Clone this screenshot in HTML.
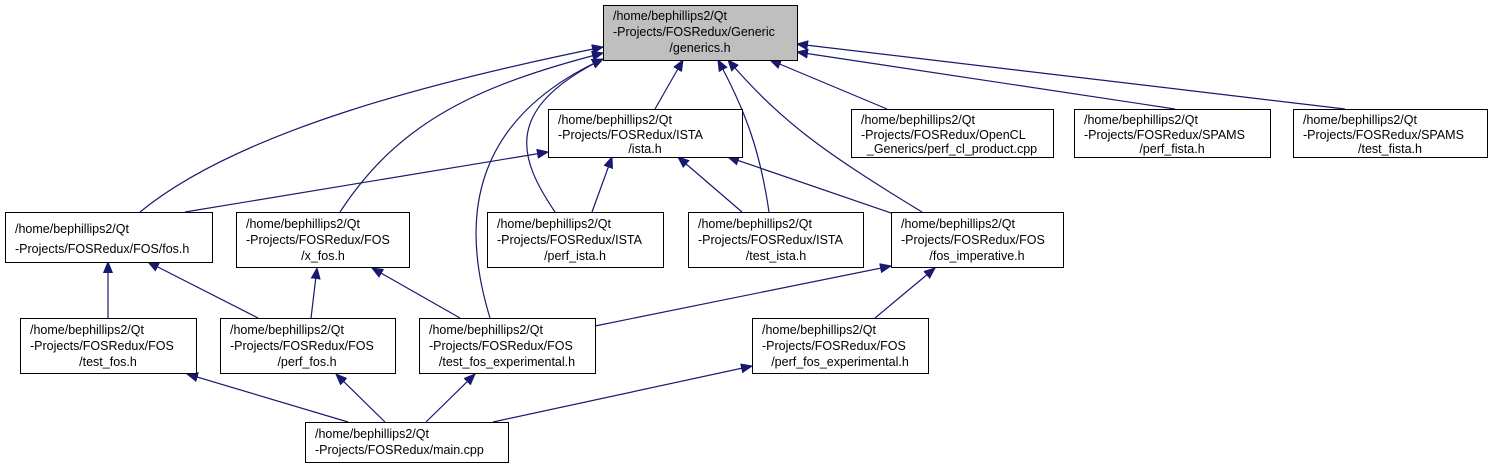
<!DOCTYPE html>
<html><head><meta charset="utf-8"><style>
html,body{margin:0;padding:0;background:#fff;}
svg{display:block;}
text{font-family:"Liberation Sans",sans-serif;font-size:12.5px;fill:#000;}
.b{fill:#fff;stroke:#000;stroke-width:1;}
.e{fill:none;stroke:#191970;stroke-width:1.2;}
</style></head><body>
<svg width="1494" height="468" viewBox="0 0 1494 468" xmlns="http://www.w3.org/2000/svg">
<defs><marker id="a" markerWidth="12" markerHeight="10" refX="11" refY="5" orient="auto" markerUnits="userSpaceOnUse">
<polygon points="0,0.5 11,5 0,9.5" fill="#191970" stroke="#191970"/></marker></defs>
<g class="e" marker-end="url(#a)">
<path d="M655,109 L683,60"/>
<path d="M887,109 L770,60"/>
<path d="M1175,109 L797,52"/>
<path d="M1345,109 L797,44"/>
<path d="M140,212 C240,130 440,80 603,47"/>
<path d="M340,212 C400,120 480,85 603,53"/>
<path d="M555,212 C520,160 500,110 603,59"/>
<path d="M490,318 C460,220 470,120 603,59"/>
<path d="M769,212 C760,150 745,110 718,60"/>
<path d="M922,212 C820,150 780,120 728,60"/>
<path d="M185,212 L548,152"/>
<path d="M592,212 L612,157"/>
<path d="M742,212 L678,157"/>
<path d="M891,213 L728,157"/>
<path d="M108,318 L108,262"/>
<path d="M258,318 L148,262"/>
<path d="M311,318 L317,268"/>
<path d="M460,318 L372,268"/>
<path d="M595,326 L891,266"/>
<path d="M875,318 L935,268"/>
<path d="M348,422 L187,374"/>
<path d="M385,422 L336,374"/>
<path d="M426,422 L475,374"/>
<path d="M493,422 L752,366"/>
</g>
<rect x="603.5" y="5.5" width="194" height="55" fill="#bfbfbf" stroke="#000"/>
<text x="613" y="20">/home/bephillips2/Qt</text><text x="613" y="36">-Projects/FOSRedux/Generic</text><text x="700" y="52" text-anchor="middle">/generics.h</text>

<rect class="b" x="548.5" y="109.5" width="194" height="48"/>
<text x="558" y="124">/home/bephillips2/Qt</text><text x="558" y="139">-Projects/FOSRedux/ISTA</text><text x="645" y="153" text-anchor="middle">/ista.h</text>
<rect class="b" x="851.5" y="109.5" width="202" height="48"/>
<text x="861" y="124">/home/bephillips2/Qt</text><text x="861" y="139">-Projects/FOSRedux/OpenCL</text><text x="952" y="153" text-anchor="middle">_Generics/perf_cl_product.cpp</text>
<rect class="b" x="1074.5" y="109.5" width="196" height="48"/>
<text x="1084" y="124">/home/bephillips2/Qt</text><text x="1084" y="139">-Projects/FOSRedux/SPAMS</text><text x="1172" y="153" text-anchor="middle">/perf_fista.h</text>
<rect class="b" x="1293.5" y="109.5" width="194" height="48"/>
<text x="1303" y="124">/home/bephillips2/Qt</text><text x="1303" y="139">-Projects/FOSRedux/SPAMS</text><text x="1390" y="153" text-anchor="middle">/test_fista.h</text>

<rect class="b" x="5.5" y="212.5" width="207" height="50"/>
<text x="15" y="233">/home/bephillips2/Qt</text><text x="15" y="253">-Projects/FOSRedux/FOS/fos.h</text>
<rect class="b" x="236.5" y="212.5" width="173" height="55"/>
<text x="246" y="228">/home/bephillips2/Qt</text><text x="246" y="244">-Projects/FOSRedux/FOS</text><text x="323" y="260" text-anchor="middle">/x_fos.h</text>
<rect class="b" x="487.5" y="212.5" width="176" height="55"/>
<text x="497" y="228">/home/bephillips2/Qt</text><text x="497" y="244">-Projects/FOSRedux/ISTA</text><text x="575" y="260" text-anchor="middle">/perf_ista.h</text>
<rect class="b" x="688.5" y="212.5" width="175" height="55"/>
<text x="698" y="228">/home/bephillips2/Qt</text><text x="698" y="244">-Projects/FOSRedux/ISTA</text><text x="776" y="260" text-anchor="middle">/test_ista.h</text>
<rect class="b" x="891.5" y="212.5" width="172" height="55"/>
<text x="901" y="228">/home/bephillips2/Qt</text><text x="901" y="244">-Projects/FOSRedux/FOS</text><text x="977" y="260" text-anchor="middle">/fos_imperative.h</text>

<rect class="b" x="20.5" y="318.5" width="176" height="55"/>
<text x="30" y="334">/home/bephillips2/Qt</text><text x="30" y="350">-Projects/FOSRedux/FOS</text><text x="108" y="366" text-anchor="middle">/test_fos.h</text>
<rect class="b" x="220.5" y="318.5" width="175" height="55"/>
<text x="230" y="334">/home/bephillips2/Qt</text><text x="230" y="350">-Projects/FOSRedux/FOS</text><text x="307" y="366" text-anchor="middle">/perf_fos.h</text>
<rect class="b" x="419.5" y="318.5" width="176" height="55"/>
<text x="429" y="334">/home/bephillips2/Qt</text><text x="429" y="350">-Projects/FOSRedux/FOS</text><text x="507" y="366" text-anchor="middle">/test_fos_experimental.h</text>
<rect class="b" x="752.5" y="318.5" width="176" height="55"/>
<text x="762" y="334">/home/bephillips2/Qt</text><text x="762" y="350">-Projects/FOSRedux/FOS</text><text x="840" y="366" text-anchor="middle">/perf_fos_experimental.h</text>

<rect class="b" x="305.5" y="422.5" width="203" height="40"/>
<text x="315" y="438">/home/bephillips2/Qt</text><text x="315" y="454">-Projects/FOSRedux/main.cpp</text>
</svg>
</body></html>
